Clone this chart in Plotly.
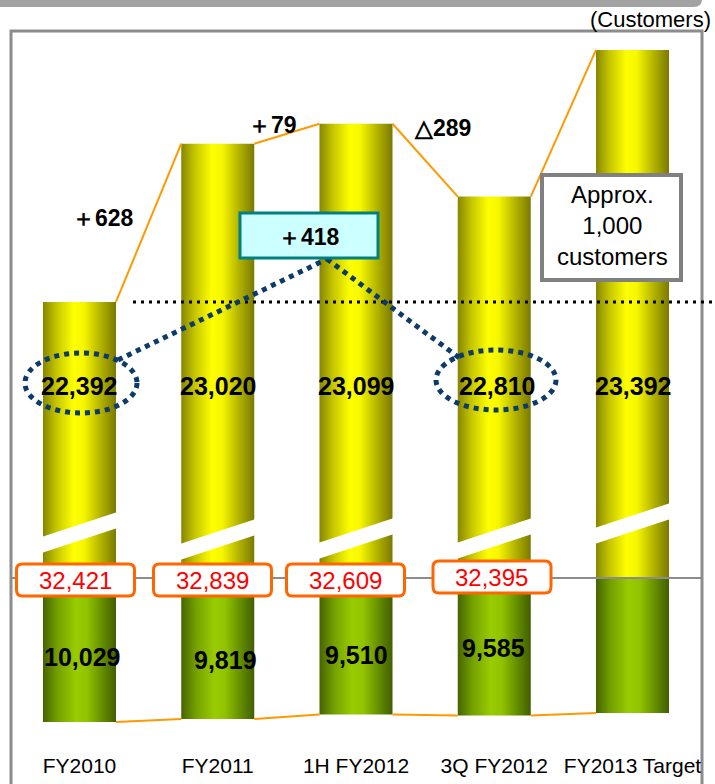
import plotly.graph_objects as go

# ---------------- data ----------------
categories = ["FY2010", "FY2011", "1H FY2012", "3Q FY2012", "FY2013 Target"]
upper_values = [22392, 23020, 23099, 22810, 23392]   # yellow segment
lower_values = [10029, 9819, 9510, 9585, 9400]       # green segment (target: estimated, unlabeled)
lower_labelled = [True, True, True, True, False]
total_labelled = [True, True, True, True, False]
unit_label = "(Customers)"
target_note = "Approx.<br>1,000<br>customers"

# ---------------- geometry / style ----------------
W, H = 715, 784
X0_PX, STEP_PX = 79.5, 138.25
BAR_W = 73 / STEP_PX
HW = BAR_W / 2
BREAK_PX = 578
LOWER_BOTTOM_PX = 751

def px(x):
    return x / W

def py(y):
    return 1 - y / H

SANS = "Liberation Sans, Arial, sans-serif"

YELLOW = [[0, "#868600"], [0.18, "#c4c400"], [0.42, "#ffff00"], [0.56, "#f6f600"],
          [0.8, "#b0b000"], [1, "#7a7a00"]]
GREEN = [[0, "#466400"], [0.2, "#73a000"], [0.45, "#99cc00"], [0.6, "#92c300"],
         [0.85, "#5d8400"], [1, "#425e00"]]
ORANGE_LINE = "#ff9900"
NAVY = "#0b3a6b"

def fmt(v):
    return f"{v:,}"

def change(v):
    return ("＋" if v >= 0 else "△") + f"{abs(v):,}"

totals = [u + l for u, l in zip(upper_values, lower_values)]
xs = list(range(len(categories)))

fig = go.Figure()

# bars as gradient-filled polygons (data units)
for i, (u, l) in enumerate(zip(upper_values, lower_values)):
    fig.add_trace(go.Scatter(
        x=[i - HW, i + HW, i + HW, i - HW, i - HW], y=[0, 0, u, u, 0],
        xaxis="x", yaxis="y2", mode="lines", fill="toself", line=dict(width=0),
        fillgradient=dict(type="horizontal", colorscale=YELLOW),
        hoverinfo="skip", showlegend=False))
    fig.add_trace(go.Scatter(
        x=[i - HW, i + HW, i + HW, i - HW, i - HW], y=[0, 0, l, l, 0],
        xaxis="x", yaxis="y", mode="lines", fill="toself", line=dict(width=0),
        fillgradient=dict(type="horizontal", colorscale=GREEN),
        hoverinfo="skip", showlegend=False))

# connecting lines between bar tops / bottoms
for i in range(len(categories) - 1):
    fig.add_trace(go.Scatter(x=[i + HW, i + 1 - HW], y=[upper_values[i], upper_values[i + 1]],
                             xaxis="x", yaxis="y2", mode="lines",
                             line=dict(color=ORANGE_LINE, width=2), hoverinfo="skip", showlegend=False))
    fig.add_trace(go.Scatter(x=[i + HW, i + 1 - HW], y=[lower_values[i], lower_values[i + 1]],
                             xaxis="x", yaxis="y", mode="lines",
                             line=dict(color=ORANGE_LINE, width=2), hoverinfo="skip", showlegend=False))

shapes = []
annotations = []

def ann(x, y, text, size, color="black", bold=False, xref="paper", xanchor="center"):
    annotations.append(dict(xref=xref, yref="paper", x=x, y=y, xanchor=xanchor, yanchor="middle",
                            showarrow=False, text=text, align="center",
                            font=dict(family=SANS, size=size, color=color,
                                      weight="bold" if bold else "normal")))

def rrect(x0, y0, x1, y1, r):
    pts = [("M", x0 + r, y0), ("L", x1 - r, y0), ("Q", x1, y0, x1, y0 + r), ("L", x1, y1 - r),
           ("Q", x1, y1, x1 - r, y1), ("L", x0 + r, y1), ("Q", x0, y1, x0, y1 - r),
           ("L", x0, y0 + r), ("Q", x0, y0, x0 + r, y0)]
    out = []
    for p in pts:
        cmd, coords = p[0], p[1:]
        s = " ".join(f"{px(coords[k]):.5f},{py(coords[k + 1]):.5f}" for k in range(0, len(coords), 2))
        out.append(f"{cmd} {s}")
    return " ".join(out) + " Z"

# top banner
shapes.append(dict(type="path", xref="paper", yref="paper", path=rrect(-20, -30, 702, 7, 8),
                   fillcolor="#a3a3a3", line=dict(width=0), layer="below"))
# frame
shapes.append(dict(type="rect", xref="paper", yref="paper", x0=px(11), x1=px(702), y0=-0.05, y1=py(31),
                   line=dict(color="#8c8c8c", width=3), layer="below"))

# axis break stripes (white, slanted)
break_left_px = [537, 544, 543, 543, 528]
for i, yl in enumerate(break_left_px):
    yr = yl - 25
    t = 16
    path = (f"M {i - HW - 0.01},{py(yl)} L {i + HW + 0.01},{py(yr)} "
            f"L {i + HW + 0.01},{py(yr + t)} L {i - HW - 0.01},{py(yl + t)} Z")
    shapes.append(dict(type="path", xref="x", yref="paper", path=path,
                       fillcolor="white", line=dict(width=0)))

# baseline between segments
shapes.append(dict(type="line", xref="paper", yref="paper", x0=px(11), x1=px(702),
                   y0=py(BREAK_PX), y1=py(BREAK_PX), line=dict(color="#8c8c8c", width=2)))

# dotted reference line at FY2010 level
shapes.append(dict(type="line", xref="paper", yref="y2", x0=px(133), x1=px(712),
                   y0=upper_values[0], y1=upper_values[0],
                   line=dict(color="black", width=3, dash="3px,5px")))

# navy dotted ellipses and connectors
shapes.append(dict(type="circle", xref="paper", yref="paper", x0=px(25), x1=px(137),
                   y0=py(413), y1=py(353), line=dict(color=NAVY, width=5, dash="dot")))
shapes.append(dict(type="circle", xref="paper", yref="paper", x0=px(436), x1=px(556),
                   y0=py(410), y1=py(350), line=dict(color=NAVY, width=5, dash="dot")))
shapes.append(dict(type="line", xref="paper", yref="paper", x0=px(118), y0=py(360),
                   x1=px(327), y1=py(259), line=dict(color=NAVY, width=5, dash="dot")))
shapes.append(dict(type="line", xref="paper", yref="paper", x0=px(327), y0=py(259),
                   x1=px(462), y1=py(360), line=dict(color=NAVY, width=5, dash="dot")))

# +418 box
shapes.append(dict(type="rect", xref="paper", yref="paper", x0=px(240), x1=px(378),
                   y0=py(258), y1=py(213), fillcolor="#ccffff", line=dict(color="#008080", width=3)))
ann(px(309), py(237), change(upper_values[3] - upper_values[0]), 23, bold=True)

# approx box
shapes.append(dict(type="rect", xref="paper", yref="paper", x0=px(542), x1=px(681),
                   y0=py(280), y1=py(175), fillcolor="white", line=dict(color="#808080", width=4)))
ann(px(612), py(226), target_note, 24)

# change labels between bars
change_pos = [(103, 218), (272, 125), (442, 128)]
for i, (cx, cy) in enumerate(change_pos):
    ann(px(cx), py(cy), change(upper_values[i + 1] - upper_values[i]), 23, bold=True)

# value labels on upper segment
upper_dx = [-1, 0, 0, 3, 0]
for i, u in enumerate(upper_values):
    ann(i + upper_dx[i] / STEP_PX, py(386), fmt(u), 25, bold=True, xref="x")

# value labels on lower segment
lower_pos = [(2.5, 657), (7.5, 660), (0, 655), (-1, 648)]
for i, l in enumerate(lower_values):
    if not lower_labelled[i]:
        continue
    dx, yy = lower_pos[i]
    ann(i + dx / STEP_PX, py(yy), fmt(l), 25, bold=True, xref="x")

# totals in rounded orange boxes
total_box = [(75.5, 580), (212.5, 580), (345.5, 580), (492, 577)]
for i, tot in enumerate(totals):
    if not total_labelled[i]:
        continue
    cx, cy = total_box[i]
    shapes.append(dict(type="path", xref="paper", yref="paper",
                       path=rrect(cx - 59, cy - 16, cx + 59, cy + 16, 6),
                       fillcolor="white", line=dict(color="#ff6600", width=3)))
    ann(px(cx), py(cy), fmt(tot), 24, color="#ff0000")

# unit label
ann(px(713), py(19), unit_label, 22, xanchor="right")

fig.update_layout(
    width=W, height=H, margin=dict(l=0, r=0, t=0, b=0),
    paper_bgcolor="white", plot_bgcolor="rgba(0,0,0,0)", showlegend=False,
    xaxis=dict(range=[-X0_PX / STEP_PX, (W - X0_PX) / STEP_PX], domain=[0, 1],
               tickmode="array", tickvals=xs, ticktext=categories, showgrid=False,
               zeroline=False, showline=False, ticks="", anchor="y",
               tickfont=dict(family=SANS, size=21, color="black")),
    yaxis=dict(domain=[py(LOWER_BOTTOM_PX), py(BREAK_PX)],
               range=[(LOWER_BOTTOM_PX - BREAK_PX) * 69.65, 0], visible=False),
    yaxis2=dict(domain=[py(BREAK_PX), 1], range=[21297, 23590], visible=False, anchor="x"),
    shapes=shapes, annotations=annotations,
)

fig.write_html("out.html")
